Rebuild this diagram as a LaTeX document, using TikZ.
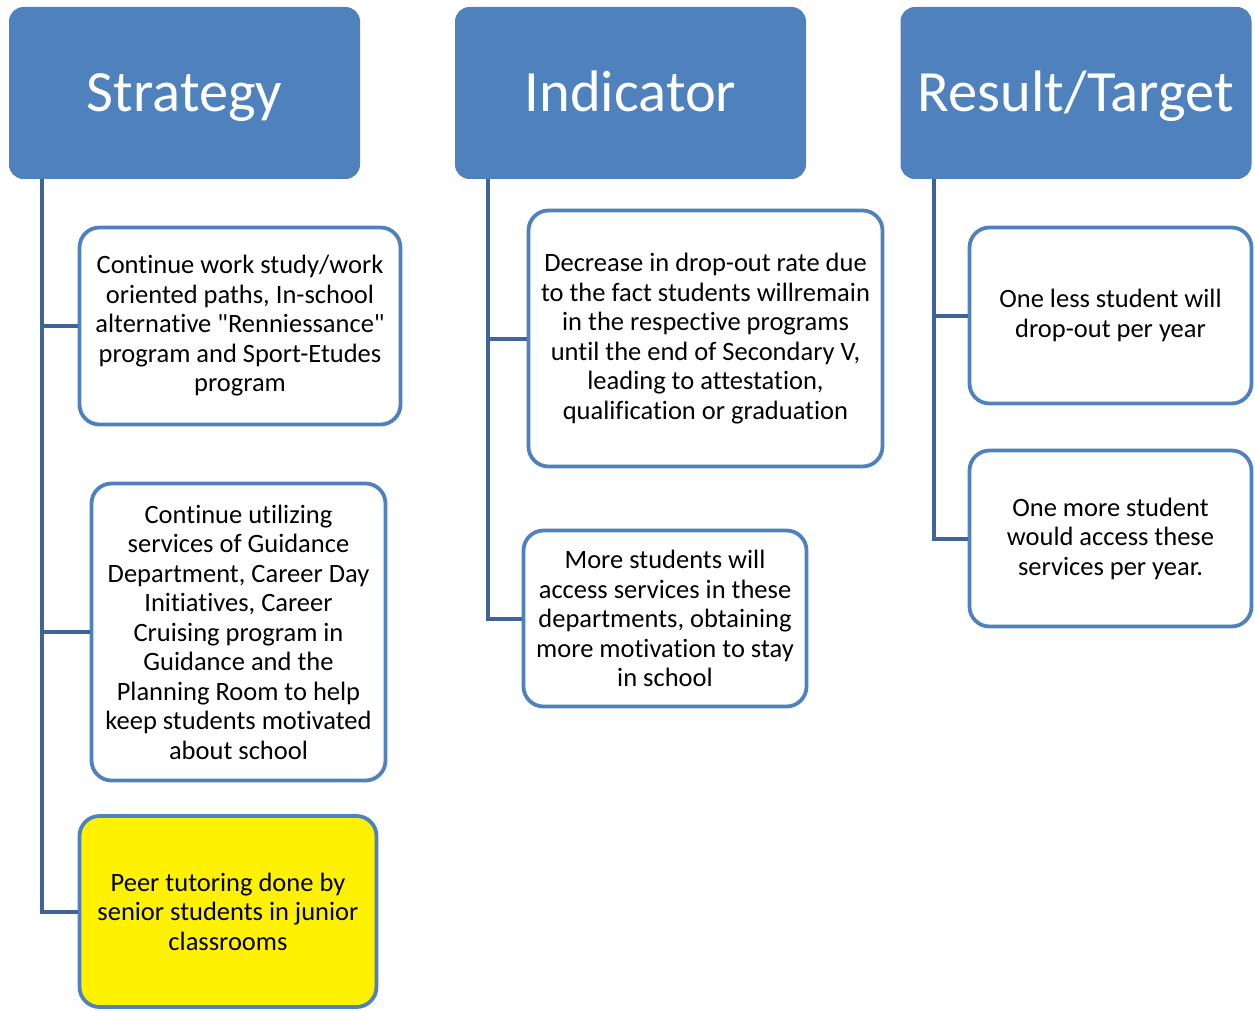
\documentclass[tikz,border=0pt]{standalone}
\usepackage{fontspec}
\defaultfontfeatures{Ligatures = TeXOff}
\setmainfont{Carlito}[Ligatures = {TeXOff, CommonOff}, RawFeature = {-liga;-clig}]
\usepackage{xcolor}
\usetikzlibrary{positioning}

\definecolor{headblue}{RGB}{79,129,189}
\definecolor{trunkblue}{RGB}{64,100,154}

\begin{document}
\begin{tikzpicture}[x = 1pt, y = -1pt, thick]
	\tikzstyle{head} = [rectangle, rounded corners = 14pt, fill = headblue, draw = headblue, line width = 1pt, text = white, font = \fontsize{58.5}{64}\selectfont, text height = 42pt, text depth = 4pt, minimum width = 350pt, minimum height = 171pt]
	\tikzstyle{item} = [rectangle, rounded corners = 20pt, fill = white, draw = headblue, line width = 3.8pt, align = center, font = \fontsize{26.5}{29.5}\selectfont, inner sep = 0pt]
	\tikzstyle{link} = [draw = trunkblue, line width = 4pt]
	\useasboundingbox (0,0) rectangle (1255,1011);
	% column heads
	\node [head] (Strat) at (184.5,93) {Strategy};
	\node [head] (Indic) at (630.5,93) {Indicator};
	\node [head] (Result) at (1076,93) {Result/Target};
	% strategy column
	\node [item, minimum width = 321pt, minimum height = 197pt] (S1) at (240,326) {Continue work study/work\\oriented paths, In-school\\alternative "Renniessance"\\program and Sport-Etudes\\program};
	\node [item, minimum width = 294pt, minimum height = 297pt] (S2) at (238.5,632) {Continue utilizing\\services of Guidance\\Department, Career Day\\Initiatives, Career\\Cruising program in\\Guidance and the\\Planning Room to help\\keep students motivated\\about school};
	\node [item, fill = yellow, minimum width = 297pt, minimum height = 191pt] (S3) at (228,911.5) {Peer tutoring done by\\senior students in junior\\classrooms};
	% indicator column
	\node [item, minimum width = 354pt, minimum height = 256pt] (I1) at (705.5,338.5) {Decrease in drop-out rate due\\to the fact students willremain\\in the respective programs\\until the end of Secondary V,\\leading to attestation,\\qualification or graduation};
	\node [item, minimum width = 283pt, minimum height = 176pt] (I2) at (665,618.5) {More students will\\access services in these\\departments, obtaining\\more motivation to stay\\in school};
	% result column
	\node [item, minimum width = 282pt, minimum height = 176pt] (R1) at (1110.5,315.5) {One less student will\\drop-out per year};
	\node [item, minimum width = 282pt, minimum height = 176pt] (R2) at (1110.5,538.5) {One more student\\would access these\\services per year.};
	% trunks
	\coordinate (sroot) at ([xshift = 33pt]Strat.south west);
	\coordinate (iroot) at ([xshift = 33pt]Indic.south west);
	\coordinate (rroot) at ([xshift = 33pt]Result.south west);
	\draw [link] (sroot) |- (S1.west);
	\draw [link] (sroot) |- (S2.west);
	\draw [link] (sroot) |- (S3.west);
	\draw [link] (iroot) |- (I1.west);
	\draw [link] (iroot) |- (I2.west);
	\draw [link] (rroot) |- (R1.west);
	\draw [link] (rroot) |- (R2.west);
\end{tikzpicture}
\end{document}
